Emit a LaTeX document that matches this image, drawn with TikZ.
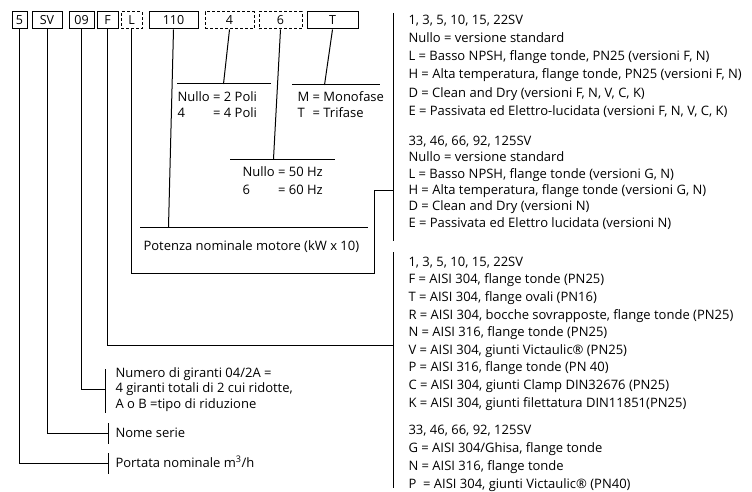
\documentclass[tikz,border=0pt]{standalone}
\usepackage{fontspec}
\setmainfont{Open Sans}
\usetikzlibrary{positioning}
\tikzset{
	box/.style={draw, minimum height=17pt, inner sep=0pt, font=\fontsize{12.5}{14}\selectfont},
	dbox/.style={box, dash pattern=on 3pt off 2pt},
	txt/.style={anchor=west, inner sep=0pt, text height=9pt, text depth=2.5pt, font=\fontsize{13}{15}\selectfont},
}

\begin{document}
\begin{tikzpicture}[x=1pt, y=-1pt, line width=1pt]
	\useasboundingbox (0,0) rectangle (752,492);

	% code boxes
	\node[box, minimum width=15pt] (b5) at (19.5,20.5) {5};
	\node[box, minimum width=30pt, right=4pt of b5] (bSV) {SV};
	\node[box, minimum width=25pt, right=6pt of bSV] (b09) {09};
	\node[box, minimum width=21pt, right=2pt of b09] (bF) {F};
	\node[dbox, minimum width=21pt, right=2pt of bF] (bL) {L};
	\node[box, minimum width=49pt, right=6pt of bL] (b110) {110};
	\node[dbox, minimum width=49pt, right=6pt of b110] (b4) {4};
	\node[dbox, minimum width=43pt, right=4pt of b4] (b6) {6};
	\node[box, minimum width=51pt, right=4pt of b6] (bT) {T};

	% poles, frequency, phases
	\coordinate (k4) at (223.5,84);
	\draw (b4.south) -- (k4);
	\draw (177,84) -- (271,84);
	\node[txt] (poli1) at (177,98) {Nullo = 2 Poli};
	\node[txt] (poli2) at (177,114) {\rlap{4}\phantom{Nullo} = 4 Poli};

	\coordinate (k6) at (273.5,159);
	\draw (b6.south) -- (k6);
	\draw (230,159) -- (335,159);
	\node[txt] (hz1) at (242,173) {Nullo = 50 Hz};
	\node[txt] (hz2) at (242,191) {\rlap{6}\phantom{Nullo} = 60 Hz};

	\coordinate (kT) at (324.5,85);
	\draw (bT.south) -- (kT);
	\draw (292,85) -- (380,85);
	\node[txt] (fase1) at (297,98) {M = Monofase};
	\node[txt] (fase2) at (297,114) {\rlap{T}\phantom{M} = Trifase};

	% motor power
	\coordinate (k110) at (168.5,227);
	\draw (b110.south) -- (k110);
	\draw (140,227) -- (368,227);
	\node[txt] (potenza) at (143,247) {Potenza nominale motore (kW x 10)};

	% versions
	\coordinate (kL1) at (374,273);
	\coordinate (kL2) at (393,190);
	\draw (bL.south) |- (kL1) |- (kL2);
	\draw (393,13) -- (393,241);
	\foreach \t [count=\i] in {{1, 3, 5, 10, 15, 22SV}, {Nullo = versione standard},
		{L = Basso NPSH, flange tonde, PN25 (versioni F, N)},
		{H = Alta temperatura, flange tonde, PN25 (versioni F, N)},
		{D = Clean and Dry (versioni F, N, V, C, K)},
		{E = Passivata ed Elettro-lucidata (versioni F, N, V, C, K)}}
		\node[txt] (va\i) at (408,{21+18.2*(\i-1)}) {\t};
	\foreach \t [count=\i] in {{33, 46, 66, 92, 125SV}, {Nullo = versione standard},
		{L = Basso NPSH, flange tonde (versioni G, N)},
		{H = Alta temperatura, flange tonde (versioni G, N)},
		{D = Clean and Dry (versioni N)},
		{E = Passivata ed Elettro lucidata (versioni N)}}
		\node[txt] (vb\i) at (408,{142+16.4*(\i-1)}) {\t};

	% materials
	\coordinate (kF) at (393,345);
	\draw (bF.south) |- (kF);
	\draw (393,252) -- (393,488);
	\foreach \t [count=\i] in {{1, 3, 5, 10, 15, 22SV}, {F = AISI 304, flange tonde (PN25)},
		{T = AISI 304, flange ovali (PN16)},
		{R = AISI 304, bocche sovrapposte, flange tonde (PN25)},
		{N = AISI 316, flange tonde (PN25)},
		{V = AISI 304, giunti Victaulic® (PN25)},
		{P = AISI 316, flange tonde (PN 40)},
		{C = AISI 304, giunti Clamp DIN32676 (PN25)},
		{K = AISI 304, giunti filettatura DIN11851(PN25)}}
		\node[txt] (ma\i) at (408,{263+17.6*(\i-1)}) {\t};
	\foreach \t [count=\i] in {{33, 46, 66, 92, 125SV}, {G = AISI 304/Ghisa, flange tonde},
		{N = AISI 316, flange tonde},
		{P ~= AISI 304, giunti Victaulic® (PN40)}}
		\node[txt] (mb\i) at (408,{431+18*(\i-1)}) {\t};

	% impellers, series, flow
	\coordinate (k09) at (105,389);
	\draw (b09.south) |- (k09);
	\draw (105,369) -- (105,413);
	\node[txt] (giranti1) at (115,374) {Numero di giranti 04/2A =};
	\node[txt] (giranti2) at (115,389.5) {4 giranti totali di 2 cui ridotte,};
	\node[txt] (giranti3) at (115,405) {A o B =tipo di riduzione};

	\coordinate (kSV) at (108,433);
	\draw (bSV.south) |- (kSV);
	\draw (108,423) -- (108,444);
	\node[txt] (serie) at (115,434) {Nome serie};

	\coordinate (k5) at (108,463);
	\draw (b5.south) |- (k5);
	\draw (108,453) -- (108,474);
	\node[txt] (portata) at (115,464) {Portata nominale m\textsuperscript{3}/h};
\end{tikzpicture}
\end{document}
